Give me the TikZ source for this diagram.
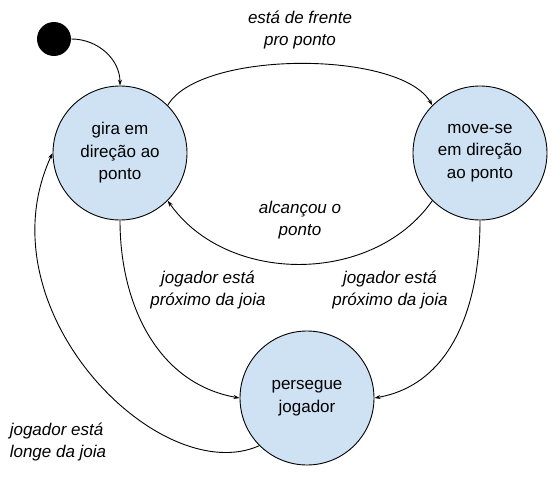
\documentclass[tikz,border=0pt]{standalone}
\usepackage{fontspec}
\setmainfont{Liberation Sans}
\usetikzlibrary{arrows.meta}
\definecolor{estado}{HTML}{CFE2F3}

\begin{document}
\begin{tikzpicture}[x=1pt,y=-1pt,font=\fontsize{17}{22.5}\selectfont,line width=0.9pt,
  estadobox/.style={circle,draw,fill=estado,minimum size=134pt,inner sep=0pt,align=center},
  rotulo/.style={font=\fontsize{17}{22}\selectfont\itshape,align=center},
  seta/.style={-{Stealth[length=6pt,width=4pt]}}]
\useasboundingbox (0,0) rectangle (560,479);
\node[circle,fill=black,minimum size=34pt,inner sep=0pt] (inicio) at (54,39) {};
\node[estadobox] (gira) at (120,153) {gira em\\direção ao\\ponto};
\node[estadobox] (move) at (480,153) {move-se\\em direção\\ao ponto};
\node[estadobox] (persegue) at (307,398) {persegue\\jogador};
% transicoes
\draw[seta] (inicio.east) to[out=0,in=90] (gira.north);
\draw[seta] (gira.45) to[out=60,in=120,looseness=0.62] (move.135);
\draw[seta] (move.225) to[out=-125,in=-55] (gira.-45);
\draw[seta] (gira.south) to[out=-90,in=170] (persegue.west);
\draw[seta] (move.south) to[out=-90,in=10] (persegue.east);
\draw[seta] (persegue.225) .. controls (160,490) and (-20,310) .. (gira.west);
% rotulos
\node[rotulo] (lbl1) at (300,30) {está de frente\\pro ponto};
\node[rotulo] (lbl2) at (300,220) {alcançou o\\ponto};
\node[rotulo] (lbl3) at (208,290) {jogador está\\próximo da joia};
\node[rotulo] (lbl4) at (390,290) {jogador está\\próximo da joia};
\node[rotulo,align=left,anchor=west] (lbl5) at (6,442) {jogador está\\longe da joia};
\end{tikzpicture}
\end{document}
